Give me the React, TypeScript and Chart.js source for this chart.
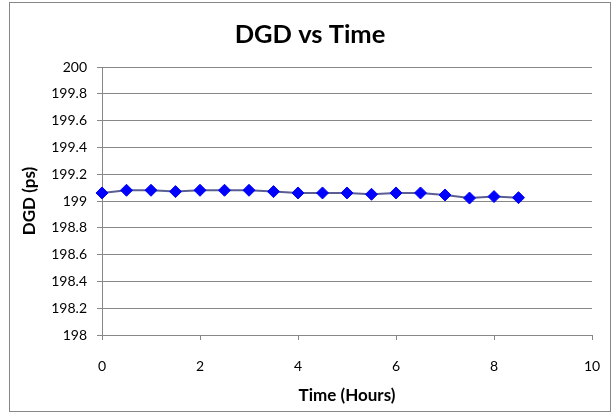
import React, { useEffect, useRef } from "react";
import { Chart, registerables } from "chart.js";

Chart.register(...registerables);

const timeHours = [0, 0.5, 1, 1.5, 2, 2.5, 3, 3.5, 4, 4.5, 5, 5.5, 6, 6.5, 7, 7.5, 8, 8.5];
const dgdPs = [199.06, 199.08, 199.08, 199.07, 199.08, 199.08, 199.08, 199.07, 199.06, 199.06, 199.06, 199.05, 199.06, 199.06, 199.045, 199.022, 199.033, 199.025];
const yRange = [198, 200];
const yStep = 0.2;
const xRange = [0, 10];
const xStep = 2;

const FONT = "Lato, 'Liberation Sans', sans-serif";
const GRID = "#878787";

export default function App() {
  const ref = useRef<HTMLCanvasElement | null>(null);
  useEffect(() => {
    if (!ref.current) return;
    const chart = new Chart(ref.current, {
      type: "line",
      data: {
        datasets: [
          {
            label: "DGD",
            data: timeHours.map((t, i) => ({ x: t, y: dgdPs[i] })),
            borderColor: "#5A5E90",
            borderWidth: 2,
            pointStyle: "rectRot",
            pointRadius: 6,
            pointBackgroundColor: "#0000FF",
            pointBorderColor: "#0000FF",
            pointBorderWidth: 1,
            tension: 0,
            clip: false as any,
          },
        ],
      },
      options: {
        animation: false,
        responsive: false,
        layout: { padding: { left: 0, right: 0, top: 0, bottom: 0 } },
        plugins: {
          legend: { display: false },
          tooltip: { enabled: false },
          title: {
            display: true,
            text: "DGD vs Time",
            color: "#000",
            font: { family: FONT, size: 25.5, weight: "bold" },
            padding: { top: 16, bottom: 17.4 },
          },
        },
        scales: {
          x: {
            type: "linear",
            min: xRange[0],
            max: xRange[1],
            afterFit: (s: any) => {
              s.height = 76;
              s.paddingRight = 18;
            },
            ticks: {
              stepSize: xStep,
              color: "#000",
              font: { family: FONT, size: 14 },
              padding: 18,
              maxRotation: 0,
            },
            grid: { drawOnChartArea: false, color: GRID, tickLength: 5 },
            border: { color: GRID },
            title: {
              display: true,
              text: "Time (Hours)",
              color: "#000",
              font: { family: FONT, size: 17, weight: "bold" },
              padding: { top: 0, bottom: 5 },
            },
          },
          y: {
            type: "linear",
            min: yRange[0],
            max: yRange[1],
            afterFit: (s: any) => {
              s.width = 92;
            },
            ticks: {
              stepSize: yStep,
              color: "#000",
              font: { family: FONT, size: 14 },
              padding: 10,
              callback: (v: any) => String(parseFloat(Number(v).toFixed(1))),
            },
            grid: { color: GRID, tickLength: 5 },
            border: { color: GRID },
            title: {
              display: true,
              text: "DGD (ps)",
              color: "#000",
              font: { family: FONT, size: 17, weight: "bold" },
              padding: { top: 9, bottom: 0 },
            },
          },
        },
      },
    });
    return () => chart.destroy();
  }, []);

  return (
    <div
      style={{
        position: "absolute",
        left: 9,
        top: 2,
        width: 602,
        height: 410,
        boxSizing: "border-box",
        border: "1px solid #878787",
        background: "#fff",
      }}
    >
      <canvas ref={ref} width={600} height={408} style={{ display: "block", width: 600, height: 408 }} />
    </div>
  );
}
